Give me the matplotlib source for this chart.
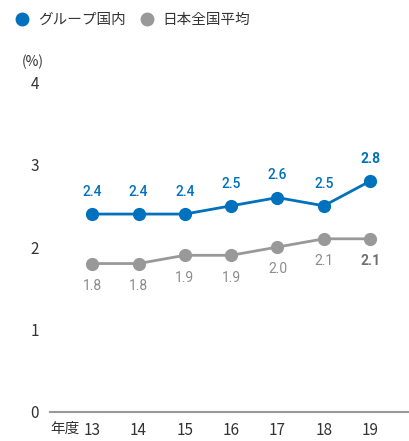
import matplotlib
matplotlib.use("Agg")
from matplotlib import pyplot as plt
from matplotlib.lines import Line2D

plt.rcParams['font.family'] = ['Noto Sans CJK JP', 'DejaVu Sans']

years = [13, 14, 15, 16, 17, 18, 19]
year_labels = ["13", "14", "15", "16", "17", "18", "19"]
group_vals = [2.4, 2.4, 2.4, 2.5, 2.6, 2.5, 2.8]
national_vals = [1.8, 1.8, 1.9, 1.9, 2.0, 2.1, 2.1]
series_names = ["グループ国内", "日本全国平均"]

BLUE = "#0071bc"
GREY = "#999999"
GREY_TXT = "#8c8c8c"
NUM_FONT = ['Roboto', 'DejaVu Sans']

fig = plt.figure(figsize=(4.1, 4.41), dpi=100)
ax = fig.add_axes([0.122, 0.0658, 0.878, 0.748])

ax.plot(years, national_vals, color=GREY, linewidth=2, marker="o", markersize=8.5,
        zorder=3, clip_on=False)
ax.plot(years, group_vals, color=BLUE, linewidth=2, marker="o", markersize=8.5,
        zorder=4, clip_on=False)

last = len(years) - 1
for i, (x, v) in enumerate(zip(years, group_vals)):
    ax.annotate(f"{v:.1f}", (x, v), xytext=(0, 11), textcoords="offset points",
                ha="center", va="bottom", color=BLUE, fontsize=10,
                family=NUM_FONT, fontweight="bold" if i == last else "medium")
for i, (x, v) in enumerate(zip(years, national_vals)):
    ax.annotate(f"{v:.1f}", (x, v), xytext=(0, -11), textcoords="offset points",
                ha="center", va="top", color=GREY_TXT if i != last else "#707070",
                fontsize=10, family=NUM_FONT,
                fontweight="bold" if i == last else "normal")

ax.set_xlim(12.09, 19.86)
ax.set_ylim(0, 4)
ax.set_yticks([0, 1, 2, 3, 4])
ax.set_xticks(years)
ax.set_xticklabels(year_labels)
ax.tick_params(axis="both", length=0, labelsize=11, colors="#333333")
ax.tick_params(axis="y", pad=8)
ax.tick_params(axis="x", pad=7)
for name in ["top", "right", "left"]:
    ax.spines[name].set_visible(False)
ax.spines["bottom"].set_color("#999999")
ax.spines["bottom"].set_linewidth(1.5)
ax.set_facecolor("white")

# "年度" prefix to the left of the first year tick
ax.annotate("年度", (years[0], 0), xytext=(-9, -7), textcoords="offset points",
            ha="right", va="top", fontsize=10.5, color="#333333",
            annotation_clip=False)

fig.text(0.08, 0.86, "(%)", fontsize=10, color="#333333", ha="center", va="center")

handles = [Line2D([], [], color=BLUE, marker="o", linestyle="none", markersize=9),
           Line2D([], [], color=GREY, marker="o", linestyle="none", markersize=9)]
fig.legend(handles, series_names, loc="upper left", bbox_to_anchor=(0.005, 1.0),
           ncol=2, frameon=False, fontsize=10.5, handlelength=1.0,
           handletextpad=0.55, columnspacing=1.0, labelcolor="#333333")

plt.savefig("out.png", dpi=100)
